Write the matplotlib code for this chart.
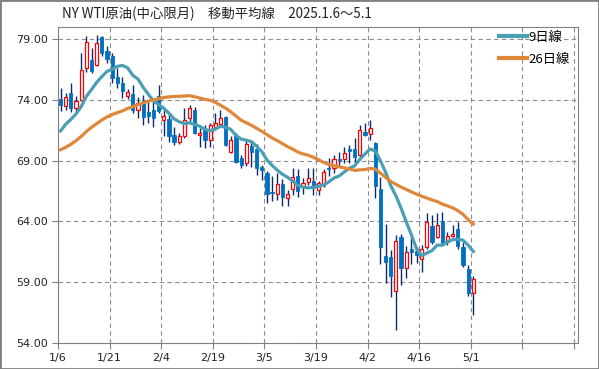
# NY WTI crude (central contract month) candlesticks with 9-day and 26-day moving averages

import matplotlib.pyplot as plt
from matplotlib.patches import Rectangle

plt.rcParams['font.family'] = ['Noto Sans CJK JP', 'DejaVu Sans']

# Trading days 2025/1/6 - 5/1
dates = ["1/6", "1/7", "1/8", "1/9", "1/10", "1/13", "1/14", "1/15", "1/16", "1/17",
         "1/21", "1/22", "1/23", "1/24", "1/27", "1/28", "1/29", "1/30", "1/31", "2/3",
         "2/4", "2/5", "2/6", "2/7", "2/10", "2/11", "2/12", "2/13", "2/14", "2/18",
         "2/19", "2/20", "2/21", "2/24", "2/25", "2/26", "2/27", "2/28", "3/3", "3/4",
         "3/5", "3/6", "3/7", "3/10", "3/11", "3/12", "3/13", "3/14", "3/17", "3/18",
         "3/19", "3/20", "3/21", "3/24", "3/25", "3/26", "3/27", "3/28", "3/31", "4/1",
         "4/2", "4/3", "4/4", "4/7", "4/8", "4/9", "4/10", "4/11", "4/14", "4/15",
         "4/16", "4/17", "4/21", "4/22", "4/23", "4/24", "4/25", "4/28", "4/29", "4/30",
         "5/1"]

opens = [74.10, 73.46, 74.56, 73.30, 74.00, 76.60, 77.30, 76.90, 79.20, 78.00,
         77.60, 75.90, 75.40, 74.35, 74.50, 73.20, 74.00, 73.00, 73.20, 74.30,
         72.36, 72.40, 71.10, 70.50, 71.00, 72.50, 73.20, 71.15, 71.50, 70.70,
         71.80, 72.00, 72.60, 69.75, 71.00, 69.20, 68.80, 70.25, 70.00, 68.50,
         68.00, 66.45, 66.30, 67.10, 65.90, 66.65, 67.70, 66.80, 67.27, 67.30,
         66.58, 67.00, 68.40, 68.40, 69.17, 69.12, 69.95, 69.94, 69.47, 71.40,
         71.18, 70.44, 66.66, 61.14, 61.08, 58.27, 62.73, 60.20, 61.70, 61.58,
         60.95, 61.90, 63.60, 62.70, 64.05, 62.32, 62.80, 63.42, 61.90, 60.12,
         58.11]

highs = [75.00, 74.56, 75.39, 74.30, 77.90, 79.30, 78.30, 79.37, 79.30, 78.40,
         77.86, 76.65, 75.90, 74.90, 75.25, 74.20, 74.40, 74.00, 74.00, 75.25,
         73.18, 72.90, 71.80, 71.30, 73.35, 73.60, 73.40, 71.70, 71.95, 72.10,
         72.90, 73.20, 72.70, 71.00, 71.30, 69.47, 70.60, 70.57, 70.40, 68.65,
         68.17, 67.70, 68.00, 67.50, 66.60, 68.40, 68.30, 67.60, 68.37, 68.40,
         67.30, 68.30, 69.20, 69.50, 69.74, 70.10, 70.30, 70.85, 71.95, 72.10,
         72.36, 70.57, 67.68, 63.83, 61.63, 62.87, 63.00, 62.00, 62.73, 61.90,
         62.04, 64.66, 64.50, 64.66, 64.80, 63.14, 63.70, 63.97, 62.30, 60.40,
         59.49]

lows = [73.05, 73.13, 73.04, 73.00, 73.90, 76.30, 76.20, 76.76, 77.60, 77.00,
        75.40, 75.00, 74.15, 74.10, 72.90, 72.50, 71.95, 72.10, 71.80, 72.90,
        71.00, 70.57, 70.30, 70.40, 70.87, 72.20, 71.20, 70.15, 70.05, 70.15,
        71.50, 71.95, 70.20, 69.60, 68.80, 68.40, 68.60, 68.50, 67.80, 67.40,
        65.50, 65.70, 65.75, 65.26, 65.26, 66.20, 66.00, 66.30, 67.00, 66.20,
        66.20, 66.80, 67.70, 68.00, 68.50, 68.80, 68.80, 68.80, 69.06, 71.00,
        70.70, 65.90, 60.53, 58.90, 57.78, 55.03, 58.80, 59.38, 60.53, 60.60,
        59.84, 61.70, 62.18, 62.60, 62.04, 62.04, 62.73, 61.77, 60.25, 57.90,
        56.27]

closes = [73.55, 74.23, 73.30, 73.90, 76.50, 78.80, 76.40, 78.70, 77.90, 77.40,
          75.80, 75.40, 74.70, 74.65, 73.20, 73.75, 72.60, 72.70, 72.50, 73.05,
          72.70, 71.00, 70.50, 71.00, 72.36, 73.30, 71.30, 71.30, 70.70, 71.90,
          72.10, 72.50, 70.30, 70.70, 68.90, 68.65, 70.35, 69.75, 68.40, 68.20,
          66.30, 66.35, 67.05, 66.00, 66.25, 67.65, 66.50, 67.15, 67.55, 66.75,
          67.13, 68.04, 68.30, 69.15, 69.07, 69.60, 69.83, 69.33, 71.53, 71.12,
          71.67, 66.90, 61.90, 60.67, 59.50, 62.37, 60.20, 61.50, 61.50, 61.25,
          61.77, 63.97, 62.30, 63.70, 62.20, 62.79, 63.00, 62.00, 60.40, 58.10,
          59.24]

ma9 = [71.45, 72.00, 72.40, 72.85, 73.45, 74.30, 74.85, 75.45, 75.92, 76.35,
       76.52, 76.76, 76.84, 76.64, 76.02, 75.72, 75.04, 74.47, 73.92, 73.62,
       73.32, 72.91, 72.44, 72.20, 72.05, 72.12, 71.97, 71.83, 71.57, 71.48,
       71.61, 71.83, 71.75, 71.57, 71.08, 70.78, 70.68, 70.57, 70.18, 69.75,
       69.06, 68.62, 68.22, 67.89, 67.63, 67.33, 66.97, 66.83, 66.76, 66.81,
       66.89, 67.00, 67.26, 67.58, 67.74, 68.08, 68.38, 68.58, 69.11, 69.55,
       69.96, 69.80, 68.99, 68.06, 66.94, 66.11, 65.10, 63.98, 62.91, 61.75,
       61.18, 61.41, 61.60, 62.06, 62.04, 62.33, 62.50, 62.55, 62.46, 62.05,
       61.53]

ma26 = [69.90, 70.10, 70.35, 70.65, 71.00, 71.40, 71.75, 72.05, 72.35, 72.60,
        72.80, 72.95, 73.10, 73.30, 73.45, 73.60, 73.75, 73.90, 74.00, 74.10,
        74.20, 74.25, 74.28, 74.30, 74.32, 74.35, 74.26, 74.15, 74.05, 73.97,
        73.80, 73.56, 73.32, 73.02, 72.67, 72.33, 72.12, 71.91, 71.66, 71.42,
        71.15, 70.87, 70.65, 70.40, 70.16, 69.95, 69.71, 69.56, 69.45, 69.28,
        69.08, 68.85, 68.70, 68.58, 68.50, 68.41, 68.32, 68.20, 68.25, 68.27,
        68.37, 68.30, 67.98, 67.63, 67.29, 67.06, 66.83, 66.64, 66.43, 66.25,
        66.07, 65.93, 65.77, 65.64, 65.43, 65.28, 65.12, 64.89, 64.59, 64.16,
        63.78]

yticks = [54, 59, 64, 69, 74, 79]
title = "NY WTI原油(中心限月)　移動平均線　2025.1.6～5.1"

up_col = "#ff0000"
down_col = "#0070c0"
wick_col = "#0d2a6e"

fig = plt.figure(figsize=(5.99, 3.69), dpi=100)
ax = fig.add_axes([58/599, 26/369, 520/599, 316/369])

x = [i + 0.5 for i in range(len(dates))]

# candlesticks
ax.vlines(x, lows, highs, color=wick_col, linewidth=1, zorder=2)
for xi, o, c in zip(x, opens, closes):
    if c >= o:
        ax.bar(xi, max(c - o, 0.02), bottom=o, width=0.62, facecolor="white",
               edgecolor=up_col, linewidth=0.9, zorder=3)
    else:
        ax.bar(xi, o - c, bottom=c, width=0.62, facecolor=down_col,
               edgecolor=down_col, linewidth=0.6, zorder=3)

# moving averages
ax.plot(x, ma9, color="#4a9fb5", linewidth=2.3, label="9日線", zorder=4)
ax.plot(x, ma26, color="#e0883a", linewidth=2.3, label="26日線", zorder=4)

ax.set_xlim(0, 100.8)
ax.set_ylim(54, 80)
ticks = list(range(0, 101, 10))
ax.set_xticks(ticks)
ax.set_xticklabels([dates[t] if t < len(dates) else "" for t in ticks],
                   family="DejaVu Sans", fontsize=8)
ax.set_yticks(yticks)
ax.set_yticklabels([f"{v:.2f}" for v in yticks], family="DejaVu Sans", fontsize=8)
ax.tick_params(length=4, color="#808080", labelcolor="#222222", pad=3)

ax.grid(True, linestyle=(0, (4, 3)), color="#8c8c8c", linewidth=0.8, zorder=0)
ax.set_axisbelow(True)
for s in ax.spines.values():
    s.set_color("#808080")

leg = ax.legend(loc="upper left", bbox_to_anchor=(499/599, 1 - 31/369),
                bbox_transform=fig.transFigure, frameon=False, fontsize=9.5,
                handlelength=2.1, handletextpad=0.1, labelspacing=0.65,
                borderpad=0, borderaxespad=0)
for line in leg.get_lines():
    line.set_linewidth(3)

fig.text(62/599, 1 - 14/369, title, fontsize=9.6, va="center", ha="left",
         color="#222222")

fig.patches.append(Rectangle((0, 0), 1, 1, transform=fig.transFigure, fill=False,
                             edgecolor="#808080", linewidth=2))

fig.savefig("out.png", dpi=100)
